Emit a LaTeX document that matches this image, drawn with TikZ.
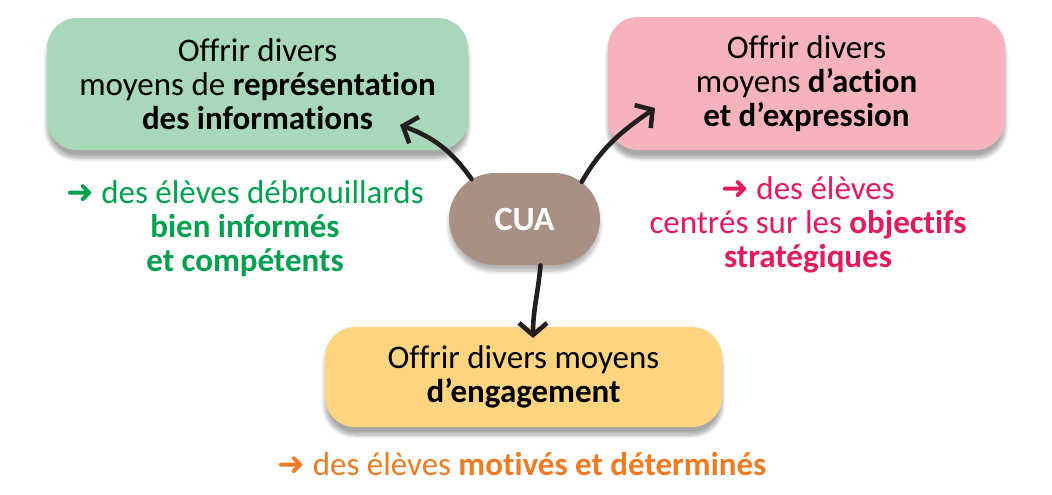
\documentclass[tikz,border=0pt]{standalone}
\usepackage{fontspec}
\setmainfont{Carlito}[Ligatures={NoCommon}]
\newfontfamily\symbfont{DejaVu Sans}
\usetikzlibrary{arrows.meta,shapes.misc,shadows.blur}

\definecolor{vertfond}{HTML}{A8D8B9}
\definecolor{rosefond}{HTML}{F6B3BD}
\definecolor{jaunefond}{HTML}{FDD480}
\definecolor{brun}{HTML}{A89085}
\definecolor{verttexte}{HTML}{00A04F}
\definecolor{rosetexte}{HTML}{E6195E}
\definecolor{orangetexte}{HTML}{F07B22}
\definecolor{trait}{HTML}{231F20}

\newcommand{\fl}{{\symbfont\bfseries ➜}}

\begin{document}
\begin{tikzpicture}[x=0.5pt, y=0.5pt,
    font=\fontsize{16.5}{17}\selectfont,
    boite/.style={rounded corners=15pt, inner sep=0pt, align=center,
        blur shadow={shadow xshift=0pt, shadow yshift=-4pt, shadow blur steps=8, shadow opacity=35}},
    fleche/.style={-{Straight Barb[length=6pt, width=14pt]}, line width=2.3pt, line cap=round, draw=trait},
    legende/.style={align=center}]

    \useasboundingbox (0,0) rectangle (1052,-494);

    % Boites
    \node[boite, fill=vertfond, minimum width=210.5pt, minimum height=66pt] (repr) at (257.5,-84)
        {Offrir divers\\moyens de \textbf{représentation}\\\textbf{des informations}};
    \node[boite, fill=rosefond, minimum width=198.5pt, minimum height=66.5pt] (action) at (806.5,-83.5)
        {Offrir divers\\moyens \textbf{d’action}\\\textbf{et d’expression}};
    \node[boite, fill=jaunefond, minimum width=198.5pt, minimum height=50pt] (engag) at (523.5,-377)
        {Offrir divers moyens\\\textbf{d’engagement}};

    % Centre
    \node[rounded rectangle, fill=brun, text=white, font=\fontsize{17}{17}\selectfont\bfseries,
        minimum width=75.5pt, minimum height=46pt, inner sep=0pt,
        blur shadow={shadow xshift=0pt, shadow yshift=-3pt, shadow blur steps=8, shadow opacity=30}] (cua) at (524.5,-219) {CUA};

    % Fleches
    \coordinate (pointe repr) at (400,-125);
    \coordinate (pointe action) at (655,-108);
    \coordinate (pointe engag) at (533,-338);
    \draw[fleche] (cua.143) to[out=125, in=-20] (pointe repr);
    \draw[fleche] (cua.33) to[out=60, in=-145] (pointe action);
    \draw[fleche] (cua.-71) to[out=-95, in=90] (pointe engag);

    % Legendes
    \node[legende, text=verttexte] (eleves repr) at (245,-229)
        {\fl\ des élèves débrouillards\\\textbf{bien informés}\\\textbf{et compétents}};
    \node[legende, text=rosetexte] (eleves action) at (808,-225)
        {\fl\ des élèves\\centrés sur les \textbf{objectifs}\\\textbf{stratégiques}};
    \node[legende, text=orangetexte, anchor=base] (eleves engag) at (522,-475)
        {\fl\ des élèves \textbf{motivés et déterminés}};

\end{tikzpicture}
\end{document}
